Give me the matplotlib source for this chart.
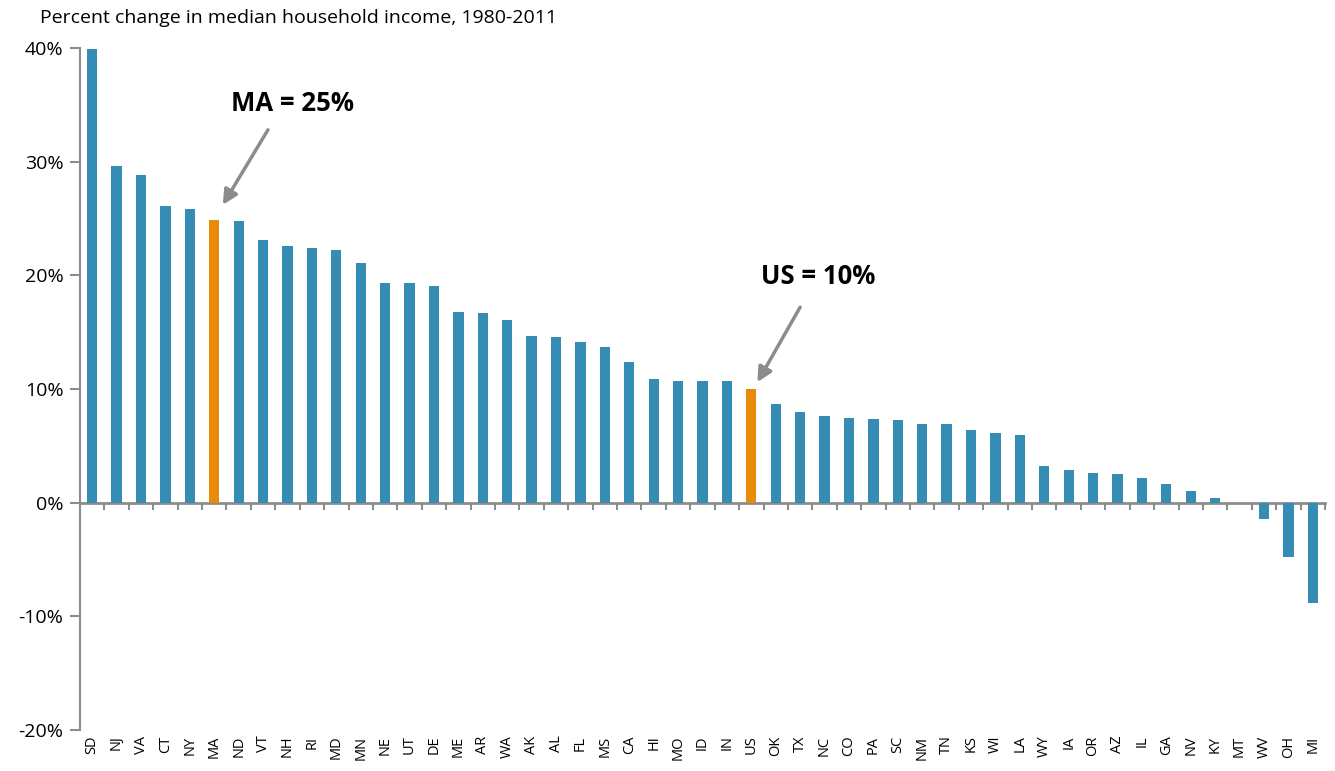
import numpy as np
import matplotlib.pyplot as plt

# data
states = ['SD', 'NJ', 'VA', 'CT', 'NY', 'MA', 'ND', 'VT', 'NH', 'RI', 'MD', 'MN',
          'NE', 'UT', 'DE', 'ME', 'AR', 'WA', 'AK', 'AL', 'FL', 'MS', 'CA', 'HI',
          'MO', 'ID', 'IN', 'US', 'OK', 'TX', 'NC', 'CO', 'PA', 'SC', 'NM', 'TN',
          'KS', 'WI', 'LA', 'WY', 'IA', 'OR', 'AZ', 'IL', 'GA', 'NV', 'KY', 'MT',
          'WV', 'OH', 'MI']
pct_change = [39.9, 29.6, 28.8, 26.1, 25.8, 24.9, 24.8, 23.1, 22.6, 22.4, 22.2, 21.1,
              19.3, 19.3, 19.1, 16.8, 16.7, 16.1, 14.7, 14.6, 14.1, 13.7, 12.4, 10.9,
              10.7, 10.7, 10.7, 10.0, 8.7, 7.95, 7.6, 7.45, 7.35, 7.25, 6.9, 6.9,
              6.4, 6.1, 5.95, 3.2, 2.9, 2.65, 2.55, 2.15, 1.65, 1.05, 0.45, 0.0,
              -1.45, -4.75, -8.8]
highlight = ['MA', 'US']

blue = '#368DB4'
orange = '#E88A0A'
grey = '#8C8C8C'

plt.rcParams['font.family'] = ['Open Sans', 'DejaVu Sans']

fig = plt.figure(figsize=(13.35, 7.71), dpi=100)
ax = fig.add_axes([80/1335, 1 - 730/771, 1245/1335, 682/771])

x = np.arange(len(states))
colors = [orange if s in highlight else blue for s in states]
ax.bar(x, pct_change, width=0.42, color=colors)

ax.set_xlim(-0.5, len(states) - 0.5)
ax.set_ylim(-20, 40)
ax.set_yticks([-20, -10, 0, 10, 20, 30, 40])
ax.set_yticklabels(['%d%%' % v for v in [-20, -10, 0, 10, 20, 30, 40]], fontsize=14)
ax.tick_params(axis='y', length=7, width=1.5, color=grey, pad=5)

ax.set_xticks(x)
ax.set_xticklabels(states, rotation=90, fontsize=10.5)
ax.tick_params(axis='x', length=0, pad=4)

for s in ['top', 'right', 'bottom']:
    ax.spines[s].set_visible(False)
ax.spines['left'].set_color(grey)
ax.spines['left'].set_linewidth(1.5)

# zero line with tick marks between bars
zero_ax = ax.secondary_xaxis(1 / 3)
zero_ax.set_xticks(np.arange(len(states)) + 0.5)
zero_ax.set_xticklabels([])
zero_ax.tick_params(axis='x', direction='out', length=5, width=1.5, color=grey)
zero_ax.spines['bottom'].set_color(grey)
zero_ax.spines['bottom'].set_linewidth(2)
zero_ax.spines['top'].set_visible(False)

fig.text(40/1335, 1 - 18/771, 'Percent change in median household income, 1980-2011',
         fontsize=14, va='center', ha='left')

arrow = dict(arrowstyle='-|>', color=grey, lw=2.5, mutation_scale=22,
             shrinkA=0, shrinkB=0)
ma = states.index('MA')
us = states.index('US')
ax.annotate('', xy=(ma + 0.35, pct_change[ma] + 1.3), xytext=(ma + 2.2, 32.8),
            arrowprops=arrow)
ax.text(ma + 3.2, 35.1, 'MA = 25%', fontsize=18.5, fontweight='bold',
        ha='center', va='center')
ax.annotate('', xy=(us + 0.25, pct_change[us] + 0.6), xytext=(us + 2.0, 17.2),
            arrowprops=arrow)
ax.text(us + 2.75, 19.9, 'US = 10%', fontsize=18.5, fontweight='bold',
        ha='center', va='center')

fig.savefig('out.png', dpi=100)
